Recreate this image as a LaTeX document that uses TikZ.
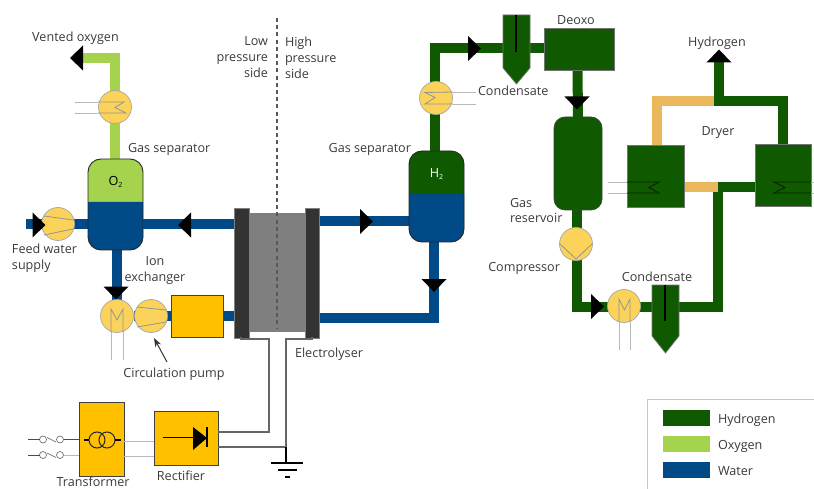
\documentclass[tikz,border=0pt]{standalone}
\usepackage{fontspec}
\setmainfont{Open Sans}
\usetikzlibrary{backgrounds,arrows.meta}
\definecolor{hyd}{HTML}{0F5A00}
\definecolor{oxy}{HTML}{A6D34E}
\definecolor{wat}{HTML}{004A87}
\definecolor{yel}{HTML}{FBD35A}
\definecolor{amb}{HTML}{FFC000}
\definecolor{plate}{HTML}{333333}
\definecolor{cell}{HTML}{7F7F7F}
\definecolor{dry}{HTML}{EAB85C}
\definecolor{txt}{HTML}{3A3A3A}
\tikzset{
 every node/.style={inner sep=0pt,outer sep=0pt},
 lab/.style={font=\fontsize{12.6}{16}\selectfont,text=txt},
 pipe/.style={line width=10pt,line cap=butt,line join=miter},
 hpipe/.style={pipe,draw=hyd},
 opipe/.style={pipe,draw=oxy},
 wpipe/.style={pipe,draw=wat},
 dpipe/.style={pipe,draw=dry},
 unit/.style={circle,minimum size=33pt,fill=yel,draw=black!35,line width=.7pt},
 thin gray/.style={draw=black!42,line width=.8pt},
 pale/.style={draw=black!28,line width=.8pt},
 wire/.style={draw=black!60,line width=1.1pt},
 ybox/.style={rectangle,fill=amb,draw=black!75,line width=.9pt},
 gbox/.style={rectangle,fill=hyd,draw=black!55,line width=.7pt},
 vessel/.style={rectangle,rounded corners=13pt,minimum width=55pt,minimum height=91pt,draw=black!85,line width=.9pt},
 swatch/.style={rectangle,minimum width=47pt,minimum height=16pt},
 contact/.style={circle,minimum size=7pt,fill=white,draw=black!55,line width=.7pt},
}
\newcommand{\flowtip}[3]{\fill[black,shift={(#1,#2)},rotate=#3] (-6.5,-12.5)--(6.5,0)--(-6.5,12.5)--cycle;}
\begin{document}
\begin{tikzpicture}[x=1pt,y=-1pt]
\useasboundingbox (0,0) rectangle (814,489);
\clip (0,0) rectangle (814,489);
% ---------- nodes ----------
\node[vessel,fill=oxy,path picture={\fill[wat] (-40,-2.5) rectangle (40,60);}] (sepO) at (115.5,204.5) {};
\node[vessel,fill=hyd,path picture={\fill[wat] (-40,-2.5) rectangle (40,60);}] (sepH) at (436.5,196.5) {};
\node[font=\fontsize{12.6}{14}\selectfont,text=black] (o2) at (115.5,182) {O\raisebox{-2.5pt}{\fontsize{7}{8}\selectfont 2}};
\node[font=\fontsize{12.6}{14}\selectfont,text=white] (h2) at (436.5,174) {H\raisebox{-2.5pt}{\fontsize{7}{8}\selectfont 2}};
\node[unit] (hxO) at (115,107) {};
\node[unit] (feed) at (58,224) {};
\node[unit] (hxH) at (436,98) {};
\node[unit] (comp) at (576,244) {};
\node[unit] (cool) at (624,306) {};
\node[unit] (ionc) at (117,316) {};
\node[unit] (circ) at (151,316) {};
\node[ybox,minimum width=52pt,minimum height=42pt] (ion) at (197,316) {};
\node[rectangle,fill=cell,minimum width=56pt,minimum height=119pt] (cellbody) at (277,272.5) {};
\node[rectangle,fill=plate,draw=black!50,line width=.4pt,minimum width=14.5pt,minimum height=130pt] (pl) at (241.5,273) {};
\node[rectangle,fill=plate,draw=black!50,line width=.4pt,minimum width=14.5pt,minimum height=130pt] (pr) at (312,273) {};
\node[gbox,minimum width=70pt,minimum height=42pt] (deoxo) at (579,49) {};
\node[gbox,rectangle,rounded corners=11pt,draw=black!75,minimum width=48pt,minimum height=93pt] (res) at (578,163.5) {};
\node[gbox,minimum width=57pt,minimum height=62pt] (dl) at (655.5,176) {};
\node[gbox,minimum width=56pt,minimum height=62pt] (dr) at (783,175) {};
\node[ybox,minimum width=45pt,minimum height=74pt] (trafo) at (101.5,439) {};
\node[ybox,minimum width=64pt,minimum height=54pt] (rect) at (186,438) {};
% ---------- coordinates ----------
\coordinate (ventEnd) at (76,58);
\coordinate (ventBend) at (115,58);
\coordinate (feedIn) at (26,224.5);
\coordinate (hBend) at (435,48);
\coordinate (wBend) at (434,317.5);
\coordinate (cBend) at (577,307);
\coordinate (cRight) at (717.5,307);
\coordinate (cTop) at (717.5,187);
\coordinate (dTop) at (719,101);
\coordinate (dLeft) at (656.5,101);
\coordinate (dRight) at (783,101);
\coordinate (hOut) at (719,58);
\coordinate (gnd) at (286,447);
% ---------- pipes ----------
\begin{scope}[on background layer]
\draw[opipe] (ventEnd) -- (ventBend) -- (sepO.north -| ventBend);
\draw[wpipe] (feedIn) -- (sepO.west |- feedIn);
\draw[wpipe] (sepO.east |- feedIn) -- (pl.west |- feedIn);
\draw[wpipe] (ionc.north |- sepO.south) -- (ionc.north);
\draw[wpipe] (ionc.east) -- (pl.west |- ionc);
\draw[wpipe] (pr.east |- 0,221.5) -- (sepH.west |- 0,221.5);
\draw[wpipe] (pr.east |- wBend) -- (wBend) -- (wBend |- sepH.south);
\draw[hpipe] (sepH.north -| hBend) -- (hBend) -- (hBend -| deoxo.west);
\draw[hpipe] (deoxo.south -| res.north) ++(-.5,0) -- (res.north);
\draw[hpipe] (comp.north |- res.south) ++(1,0) -- ++(0,20);
\draw[dpipe] (cTop) -- (dl.east |- cTop);
\draw[dpipe] (dLeft |- dl.north) -- (dLeft) -- (dTop);
\draw[hpipe] (comp.south) ++(1,0) -- (cBend) -- (cRight) -- ([yshift=-5pt]cTop);
\draw[hpipe] (cTop) -- (dr.west |- cTop);
\draw[hpipe] (dTop) -- (dRight) -- (dr.north -| dRight);
\draw[hpipe] (dTop) ++(0,5) -- (hOut);
\end{scope}
% ---------- drop pots ----------
\path[fill=hyd,draw=black!55,line width=.7pt] (503,15) coordinate (potA) -- (530,15) -- (530,68) -- (516.5,84) -- (503,68) -- cycle;
\draw[black,line width=1.4pt] (516,15) -- (516,52);
\path[fill=hyd,draw=black!55,line width=.7pt] (652,285) coordinate (potB) -- (679,285) -- (679,336) -- (665.5,353) -- (652,336) -- cycle;
\draw[black,line width=1.4pt] (665,285) -- (665,321);
% ---------- flow tips ----------
\flowtip{76.5}{58}{180}
\flowtip{39}{225}{0}
\flowtip{184.5}{225}{180}
\flowtip{366.5}{221.5}{0}
\flowtip{434}{285.5}{-90}
\flowtip{474.5}{48.5}{0}
\flowtip{577}{103}{-90}
\flowtip{597.5}{306.5}{0}
\flowtip{116}{293}{-90}
\flowtip{719}{56}{90}
% ---------- heat exchanger marks ----------
\draw[pale] (75,102) -- (98,102);
\draw[pale] (75,113) -- (98,113);
\draw[thin gray] (98,102) -- (124,102) -- (115,107.5) -- (126,113) -- (98,113);
\draw[pale] (453,92) -- (476,92);
\draw[pale] (453,104) -- (476,104);
\draw[thin gray] (453,92) -- (425,92.5) -- (435,97.5) -- (425,104) -- (453,104);
\draw[thin gray] (560,244) -- (576,259) -- (592,244);
\draw[pale] (619,322) -- (619,350);
\draw[pale] (630,322) -- (630,350);
\draw[thin gray] (619,322) -- (619,299) -- (624.5,310) -- (630,299) -- (630,322);
\draw[pale] (111,332) -- (111,360);
\draw[pale] (123,332) -- (123,360);
\draw[thin gray] (111,332) -- (111,309) -- (117,320) -- (123,309) -- (123,332);
% pump wedges
\draw[thin gray] (44,216) -- (73,220);
\draw[thin gray] (44,235) -- (73,229);
\draw[thin gray] (137,307) -- (166,310);
\draw[thin gray] (137,327) -- (166,322);
% dryer coils
\draw[pale] (608,182) -- (627,182);
\draw[pale] (608,193) -- (627,193);
\draw[draw=black!65!hyd,line width=.8pt] (627,182) -- (659,182) -- (649,187.5) -- (659,193) -- (627,193);
\draw[pale] (811,182) -- (814,182);
\draw[pale] (811,193) -- (814,193);
\draw[draw=black!65!hyd,line width=.8pt] (811,182) -- (774,182) -- (785,187.5) -- (774,193) -- (811,193);
% ---------- pressure divider ----------
\draw[draw=black!65,line width=1.1pt,dash pattern=on 4pt off 3.2pt] (277,18) -- (277,328);
% ---------- electrics ----------
\draw[wire] (rect.east |- 0,432) -- (269,432) -- (269,339) -- (241,339) -- (241,337);
\draw[wire] (rect.east |- gnd) -- (gnd) -- (286,339) -- (312,339) -- (312,337);
\draw[black,line width=1.1pt] (gnd) -- (286,463);
\draw[black,line width=1.1pt] (271,463) -- (303,463);
\draw[black,line width=1.1pt] (278,470) -- (297,470);
\draw[black,line width=1.2pt] (285,477) -- (290,477);
\draw[pale,line width=1pt] (trafo.east |- 0,441) -- (rect.west |- 0,441);
\draw[pale,line width=1pt] (trafo.east |- 0,456) -- (rect.west |- 0,456);
% transformer symbol
\node[circle,draw=black!85,line width=1pt,minimum size=16pt] (t1) at (97,440) {};
\node[circle,draw=black!85,line width=1pt,minimum size=16pt] (t2) at (107,440) {};
\draw[black,line width=1.1pt] (84,440) -- (t1.west);
\draw[black,line width=1.1pt] (t2.east) -- (121,440);
% diode
\draw[black,line width=1.2pt] (163,437.5) -- (195,437.5);
\fill[black] (193,427) -- (207,438) -- (193,450) -- cycle;
\draw[black,line width=1.2pt] (207,427) -- (207,447);
% switches
\node[contact] (s1a) at (43,439.5) {};
\node[contact] (s1b) at (60,439.5) {};
\node[contact] (s2a) at (43,455) {};
\node[contact] (s2b) at (60,455) {};
\coordinate (s1in) at (28,439.5);
\coordinate (s2in) at (28,455);
\draw[black!70,line width=.9pt] (s1in) -- (s1a.west);
\draw[black!70,line width=.9pt] (s2in) -- (s2a.west);
\draw[black!70,line width=.9pt] (s1b.east) -- (trafo.west |- s1b);
\draw[pale,line width=1pt] (s2b.east) -- (trafo.west |- s2b);
\draw[black!50,line width=.7pt] (47,437.5) -- (56,442);
\draw[black!50,line width=.7pt] (47,453) -- (56,457.5);
% pointer
\coordinate (ptrA) at (167,362);
\coordinate (ptrB) at (154,338);
\draw[black!80,line width=1pt,-{Stealth[length=9pt,width=6.5pt]}] (ptrA) -- (ptrB);
% ---------- legend ----------
\draw[draw=black!22,line width=1pt,fill=white] (647.5,399.5) rectangle (820,495);
\node[swatch,fill=hyd] (k1) at (686.5,418) {};
\node[swatch,fill=oxy] (k2) at (686.5,444) {};
\node[swatch,fill=wat] (k3) at (686.5,470) {};
\node[lab,anchor=west] (k1t) at (718,420) {Hydrogen};
\node[lab,anchor=west] (k2t) at (718,446) {Oxygen};
\node[lab,anchor=west] (k3t) at (718,471.5) {Water};
% ---------- labels ----------
\node[lab] (tVent) at (75.5,38) {Vented oxygen};
\node[lab,anchor=west] (tGasO) at (128,149.5) {Gas separator};
\node[lab,align=left,anchor=north west] (tFeed) at (12,243.5) {Feed water\\supply};
\node[lab,align=center] (tIon) at (155,271) {Ion\\exchanger};
\node[lab] (tCirc) at (174,374.5) {Circulation pump};
\node[lab,anchor=west] (tElec) at (295,354) {Electrolyser};
\node[lab] (tRect) at (181,476) {Rectifier};
\node[lab] (tTraf) at (93,481.5) {Transformer};
\node[lab,align=right,anchor=east] (tLow) at (268,57.5) {Low\\pressure\\side};
\node[lab,align=left,anchor=west] (tHigh) at (285,57.5) {High\\pressure\\side};
\node[lab,anchor=east] (tGasH) at (411,149.5) {Gas separator};
\node[lab,anchor=west] (tCond) at (478,90.5) {Condensate};
\node[lab] (tDeoxo) at (576,20) {Deoxo};
\node[lab,align=left,anchor=west] (tRes) at (510,210.5) {Gas\\reservoir};
\node[lab,anchor=east] (tComp) at (560,268.5) {Compressor};
\node[lab] (tCond2) at (657,276.5) {Condensate};
\node[lab] (tHyd) at (717,43) {Hydrogen};
\node[lab] (tDry) at (718,133) {Dryer};
\end{tikzpicture}
\end{document}
